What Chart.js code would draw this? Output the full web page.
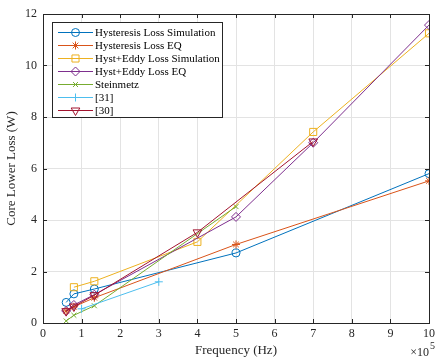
<!DOCTYPE html>
<html>
<head>
<meta charset="utf-8">
<script src="https://cdn.jsdelivr.net/npm/chart.js@4/dist/chart.umd.min.js"></script>
<style>
  body { margin: 0; background: #fff; }
  #wrap { width: 439px; height: 359px; }
</style>
</head>
<body>
<div id="wrap"><canvas id="myChart" width="439" height="359"></canvas></div>
<script>
// frequency in units of 1e5 Hz, loss in W
const hystSimFreq = [0.6, 0.8, 1.33, 5, 10];
const hystSimLoss = [0.8, 1.13, 1.32, 2.72, 5.8];
const hystEqFreq = [0.6, 0.8, 1.33, 5, 10];
const hystEqLoss = [0.47, 0.63, 0.98, 3.05, 5.52];
const hystEddySimFreq = [0.8, 1.33, 4, 7, 10];
const hystEddySimLoss = [1.39, 1.62, 3.15, 7.42, 11.25];
const hystEddyEqFreq = [0.6, 0.8, 1.33, 5, 7, 10];
const hystEddyEqLoss = [0.47, 0.7, 1.1, 4.12, 7.0, 11.57];
const steinmetzFreq = [0.6, 0.8, 1.33, 5];
const steinmetzLoss = [0.08, 0.3, 0.67, 4.52];
const ref31Freq = [1, 3];
const ref31Loss = [0.55, 1.6];
const ref30Freq = [0.6, 0.8, 1.33, 4, 7];
const ref30Loss = [0.46, 0.64, 1.08, 3.52, 7.05];

const xTicks = [0, 1, 2, 3, 4, 5, 6, 7, 8, 9, 10];
const yTicks = [0, 2, 4, 6, 8, 10, 12];

const FONT = '"Liberation Serif", "Times New Roman", serif';
const TXT = '#262626';

const pts = (xs, ys) => xs.map((x, i) => ({x: x, y: ys[i]}));

const series = [
  {label: 'Hysteresis Loss Simulation', data: pts(hystSimFreq, hystSimLoss), color: '#0072BD', style: 'circle', r: 4, rot: 0},
  {label: 'Hysteresis Loss EQ', data: pts(hystEqFreq, hystEqLoss), color: '#D95319', style: 'star', r: 4, rot: 0},
  {label: 'Hyst+Eddy Loss Simulation', data: pts(hystEddySimFreq, hystEddySimLoss), color: '#EDB120', style: 'rect', r: 5, rot: 0},
  {label: 'Hyst+Eddy Loss EQ', data: pts(hystEddyEqFreq, hystEddyEqLoss), color: '#7E2F8E', style: 'rectRot', r: 4.5, rot: 0},
  {label: 'Steinmetz', data: pts(steinmetzFreq, steinmetzLoss), color: '#77AC30', style: 'crossRot', r: 3.5, rot: 0},
  {label: '[31]', data: pts(ref31Freq, ref31Loss), color: '#4DBEEE', style: 'cross', r: 4, rot: 0},
  {label: '[30]', data: pts(ref30Freq, ref30Loss), color: '#A2142F', style: 'triangle', r: 5, rot: 180}
];

const datasets = series.map((s, i) => ({
  label: s.label,
  data: s.data,
  borderColor: s.color,
  backgroundColor: 'rgba(0,0,0,0)',
  borderWidth: 1,
  pointStyle: s.style,
  pointRadius: s.r,
  pointRotation: s.rot,
  pointBorderWidth: 1,
  pointBorderColor: s.color,
  pointBackgroundColor: 'rgba(0,0,0,0)',
  showLine: true,
  tension: 0,
  order: series.length - i
}));

// axes box, inward ticks, legend, labels
const matlabLook = {
  id: 'matlabLook',
  afterDatasetsDraw(chart) {
    const ctx = chart.ctx;
    const a = chart.chartArea;
    const xs = chart.scales.x, ys = chart.scales.y;
    ctx.save();
    ctx.strokeStyle = TXT;
    ctx.lineWidth = 1;
    ctx.beginPath();
    ctx.rect(Math.round(a.left) + 0.5, Math.round(a.top) + 0.5, Math.round(a.right - a.left), Math.round(a.bottom - a.top));
    ctx.stroke();
    ctx.beginPath();
    xTicks.forEach(t => {
      const px = Math.round(xs.getPixelForValue(t)) + 0.5;
      ctx.moveTo(px, a.bottom); ctx.lineTo(px, a.bottom - 4);
      ctx.moveTo(px, a.top); ctx.lineTo(px, a.top + 4);
    });
    yTicks.forEach(t => {
      const py = Math.round(ys.getPixelForValue(t)) + 0.5;
      ctx.moveTo(a.left, py); ctx.lineTo(a.left + 4, py);
      ctx.moveTo(a.right, py); ctx.lineTo(a.right - 4, py);
    });
    ctx.stroke();

    // legend
    const lx = 52.5, ly = 22.5, lw = 170, lh = 95;
    ctx.fillStyle = '#fff';
    ctx.fillRect(lx, ly, lw, lh);
    ctx.strokeStyle = TXT;
    ctx.strokeRect(lx, ly, lw, lh);
    ctx.font = '11px ' + FONT;
    ctx.textBaseline = 'middle';
    ctx.textAlign = 'left';
    series.forEach((s, i) => {
      const ry = 32 + i * 13;
      ctx.strokeStyle = s.color;
      ctx.lineWidth = 1;
      ctx.beginPath();
      ctx.moveTo(58, ry + 0.5); ctx.lineTo(93, ry + 0.5);
      ctx.stroke();
      ctx.fillStyle = 'rgba(0,0,0,0)';
      if (Chart.helpers && Chart.helpers.drawPoint) {
        Chart.helpers.drawPoint(ctx, {pointStyle: s.style, rotation: s.rot, radius: s.r, borderWidth: 1}, 75.5, ry + 0.5);
      }
      ctx.fillStyle = '#000';
      ctx.fillText(s.label, 95, ry + 1);
    });

    // axis titles and exponent
    ctx.fillStyle = TXT;
    ctx.font = '13px ' + FONT;
    ctx.textAlign = 'center';
    ctx.fillText('Frequency (Hz)', (a.left + a.right) / 2, 351);
    ctx.save();
    ctx.translate(12, (a.top + a.bottom) / 2);
    ctx.rotate(-Math.PI / 2);
    ctx.fillText('Core Lower Loss (W)', 0, 0);
    ctx.restore();
    ctx.font = '12px ' + FONT;
    ctx.textAlign = 'right';
    ctx.fillText('\u00d710', 429, 353);
    ctx.textAlign = 'left';
    ctx.font = '10px ' + FONT;
    ctx.fillText('5', 430, 346);
    ctx.restore();
  }
};

new Chart(document.getElementById('myChart').getContext('2d'), {
  type: 'scatter',
  data: {datasets: datasets},
  options: {
    responsive: false,
    animation: false,
    devicePixelRatio: 1,
    layout: {padding: {top: 14, right: 5, left: 0, bottom: 0}},
    plugins: {legend: {display: false}, tooltip: {enabled: false}},
    scales: {
      x: {
        type: 'linear', min: 0, max: 10,
        afterFit: s => { s.height = 36; },
        afterBuildTicks: s => { s.ticks = xTicks.map(v => ({value: v})); },
        ticks: {color: TXT, font: {family: FONT, size: 12}, padding: 4, maxRotation: 0},
        grid: {color: '#e3e3e3', drawTicks: false},
        border: {color: TXT}
      },
      y: {
        type: 'linear', min: 0, max: 12,
        afterFit: s => { s.width = 43; },
        afterBuildTicks: s => { s.ticks = yTicks.map(v => ({value: v})); },
        ticks: {color: TXT, font: {family: FONT, size: 12}, padding: 6},
        grid: {color: '#e3e3e3', drawTicks: false},
        border: {color: TXT}
      }
    }
  },
  plugins: [matlabLook]
});
</script>
</body>
</html>
